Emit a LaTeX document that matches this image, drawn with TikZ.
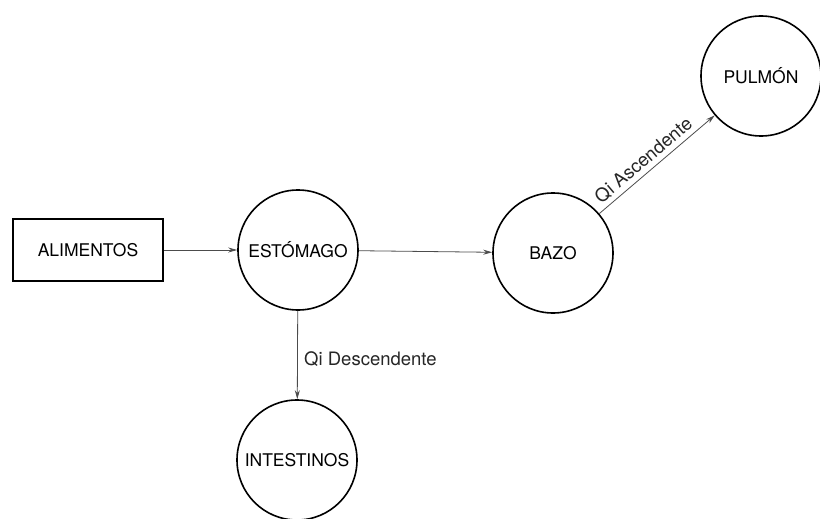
\documentclass[tikz,border=0pt]{standalone}
\usepackage{fontspec}
\setmainfont{TeX Gyre Heros}
\usepackage{tikz}
\usetikzlibrary{arrows.meta, positioning}

\begin{document}
\begin{tikzpicture}[
    x=1pt, y=-1pt,
    organ/.style={draw, circle, line width=1.6pt, minimum size=120pt, inner sep=0pt, font=\fontsize{17.5}{20}\selectfont},
    source/.style={draw, rectangle, line width=1.6pt, minimum width=150pt, minimum height=62pt, inner sep=0pt, font=\fontsize{17.5}{20}\selectfont},
    flow/.style={-{Stealth[length=9pt, width=5pt]}, line width=0.8pt, black!70},
    flowlabel/.style={font=\fontsize{18.5}{20}\selectfont, text=black!85},
]
    \useasboundingbox (0,0) rectangle (820,519);

    % Source box and organs
    \node[source] (alim) at (88, 250) {ALIMENTOS};
    \node[organ] (estom) at (298, 250) {ESTÓMAGO};
    \node[organ] (bazo) at (553, 253) {BAZO};
    \node[organ] (pulmon) at (761, 76) {PULMÓN};
    \node[organ] (intest) at (297, 460) {INTESTINOS};

    % Flows between organs
    \draw[flow] (alim.east) -- (estom);
    \draw[flow] (estom) -- (bazo);
    \draw[flow] (bazo) -- (pulmon)
        node[flowlabel, pos=0.45, sloped, above, yshift=1pt] {Qi Ascendente};
    \draw[flow] (estom) -- (intest)
        node[flowlabel, pos=0.55, anchor=west, xshift=3pt] {Qi Descendente};

\end{tikzpicture}
\end{document}
